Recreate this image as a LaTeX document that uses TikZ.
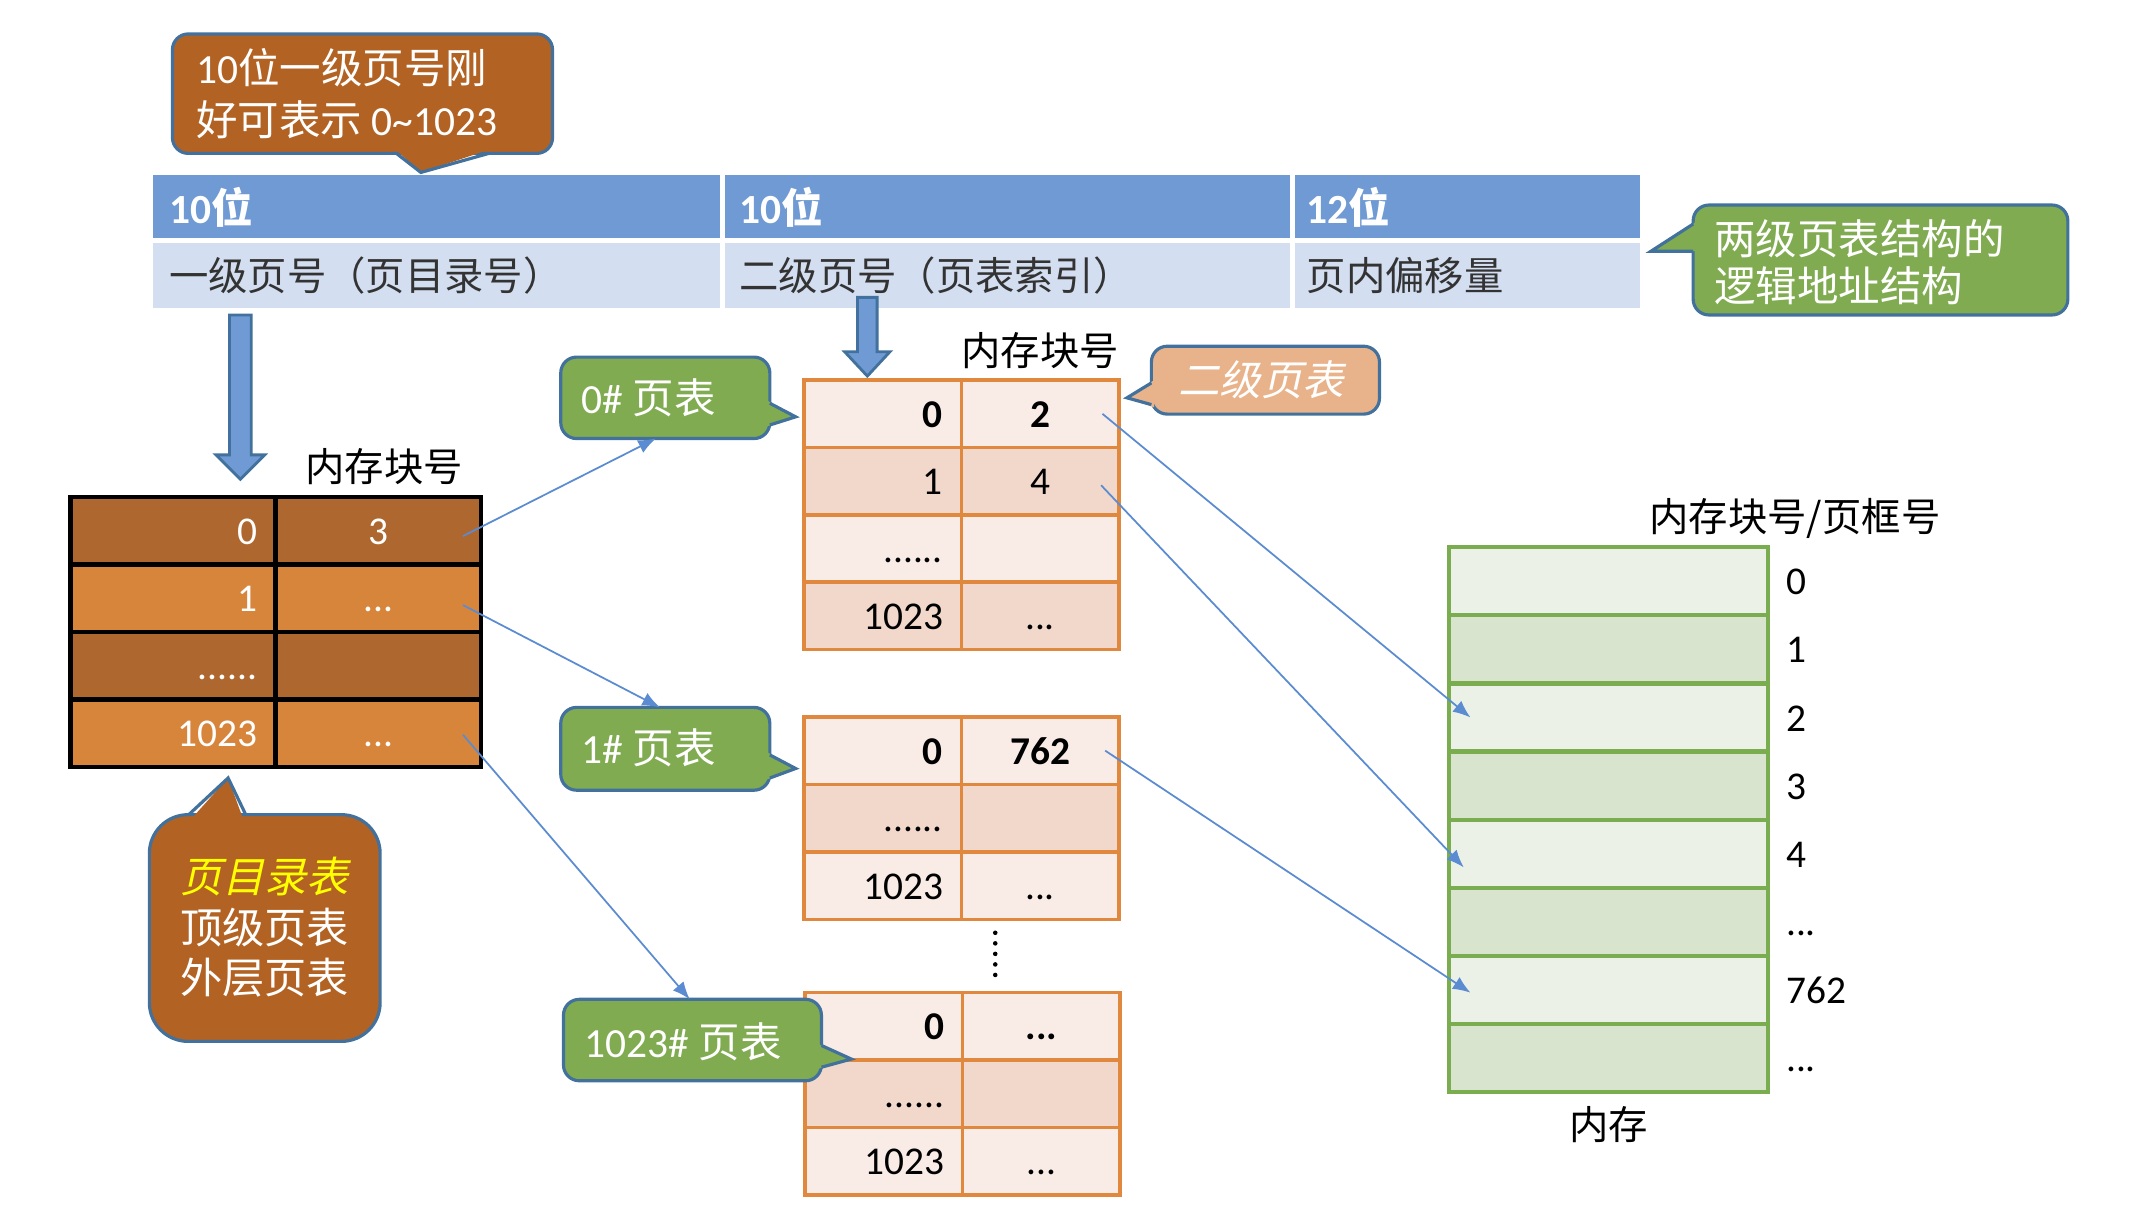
\documentclass[tikz,border=0pt]{standalone}
\usepackage{fontspec}
\setmainfont{Carlito}
\newfontfamily\cjk{Noto Sans CJK SC}
\newfontfamily\cjkit[FakeSlant=0.22]{Noto Sans CJK SC}
\usetikzlibrary{arrows.meta,calc}
\newcommand\pxu{0.38632pt}
\newcommand\mytdots{...}
\newcommand\mysdots{......}
\definecolor{hdrblue}{HTML}{6F9AD3}
\definecolor{hdrlight}{HTML}{D3DEF0}
\definecolor{outl}{HTML}{41719C}
\definecolor{cbrown}{HTML}{B26223}
\definecolor{tdark}{HTML}{AD672F}
\definecolor{torange}{HTML}{D8853C}
\definecolor{cgreen}{HTML}{80AB51}
\definecolor{cpeach}{HTML}{E8B38A}
\definecolor{pglight}{HTML}{F9EBE5}
\definecolor{pgdark}{HTML}{F2D8CB}
\definecolor{pgline}{HTML}{E0883E}
\definecolor{memlight}{HTML}{EBF1E7}
\definecolor{memdark}{HTML}{D8E4CE}
\definecolor{memline}{HTML}{79AD4F}
\definecolor{linkblue}{HTML}{5B8BD0}
\definecolor{graytext}{HTML}{333333}
\definecolor{ylw}{HTML}{FFFF00}
\tikzset{
  box/.style 2 args={minimum width=#1*\pxu, minimum height=#2*\pxu},
  bodyfont/.style={font=\fontsize{11.2}{13.5}\selectfont},
  callbody/.style={draw=outl, line width=0.9pt, rounded corners=4.5pt, inner sep=0pt, outer sep=0pt, anchor=north west},
  tailedge/.style={draw=outl, line width=0.9pt, line join=miter},
  cell/.style={inner sep=0pt, outer sep=0pt, anchor=north west},
  lcell/.style={cell, draw=black, line width=1.2pt},
  pcell/.style={cell, draw=pgline, line width=1pt},
  mcell/.style={cell, draw=memline, line width=1.2pt},
  link/.style={draw=linkblue, line width=0.5pt, -{Latex[length=5pt,width=4pt]}},
  barrow/.style={fill=hdrblue, draw=outl, line width=0.8pt},
  wtext/.style={text=white, inner sep=0pt, bodyfont},
  ktext/.style={text=black, inner sep=0pt, bodyfont},
  ctext/.style={text=white, inner sep=0pt, font=\fontsize{11.8}{14.7}\selectfont},
}
\begin{document}
\begin{tikzpicture}[x=0.013578cm, y=-0.013578cm]
\useasboundingbox (0,0) rectangle (1568,895.6);

% ---------- top-left callout ----------
\node[callbody, fill=cbrown, box={280}{88}] (ctop) at (127,25) {};
\fill[cbrown] (291,110) -- (310,127) -- (361,110) -- cycle;
\draw[tailedge] (292,113) -- (310,127) -- (360,113);
\node[ctext, anchor=west, align=left] (ctopt) at (144,69) {10{\cjk 位一级页号刚}\\{\cjk 好可表示} 0\textasciitilde 1023};

% ---------- header ----------
\node[cell, fill=hdrblue, box={417}{46}] (h1) at (113,129) {};
\node[cell, fill=hdrblue, box={416}{46}] (h2) at (534,129) {};
\node[cell, fill=hdrblue, box={254}{46}] (h3) at (954,129) {};
\node[cell, fill=hdrlight, box={417}{48}] (g1) at (113,179) {};
\node[cell, fill=hdrlight, box={416}{48}] (g2) at (534,179) {};
\node[cell, fill=hdrlight, box={254}{48}] (g3) at (954,179) {};
\node[wtext, anchor=west, font=\fontsize{11.8}{14}\selectfont\bfseries] (h1t) at (124,153) {10{\cjk\bfseries 位}};
\node[wtext, anchor=west, font=\fontsize{11.8}{14}\selectfont\bfseries] (h2t) at (544,153) {10{\cjk\bfseries 位}};
\node[wtext, anchor=west, font=\fontsize{11.8}{14}\selectfont\bfseries] (h3t) at (962,153) {12{\cjk\bfseries 位}};
\node[ktext, text=graytext, anchor=west] (g1t) at (124,203) {\cjk 一级页号（页目录号）};
\node[ktext, text=graytext, anchor=west] (g2t) at (544,203) {\cjk 二级页号（页表索引）};
\node[ktext, text=graytext, anchor=west] (g3t) at (962,203) {\cjk 页内偏移量};

% ---------- right green callout ----------
\node[callbody, fill=cgreen, box={276}{81}] (cright) at (1247,151) {};
\fill[cgreen] (1250,163) -- (1216,185) -- (1250,185) -- cycle;
\draw[tailedge] (1247,165) -- (1216,185) -- (1247,185);
\node[ctext, anchor=west, align=left, font=\fontsize{11.8}{13.2}\selectfont] (crightt) at (1262,193) {\cjk 两级页表结构的\\\cjk 逻辑地址结构};

% ---------- block arrows ----------
\draw[barrow] (169,232) -- (185,232) -- (185,335) -- (195,335) -- (177,353) -- (159,335) -- (169,335) -- cycle;
\draw[barrow] (631.5,219) -- (646,219) -- (646,259) -- (655.5,259) -- (638.8,277) -- (622,259) -- (631.5,259) -- cycle;

% ---------- labels ----------
\node[ktext] (lbl1) at (283,344) {\cjk 内存块号};
\node[ktext] (lbl2) at (766,258) {\cjk 内存块号};
\node[ktext] (lbl3) at (1322,382) {\cjk 内存块号/页框号};
\node[ktext] (lbl4) at (1185,828) {\cjk 内存};

% ---------- page directory table ----------
\foreach \r/\fc/\ta/\tb in {0/tdark/0/3, 1/torange/1/\mytdots, 2/tdark/\mysdots/{}, 3/torange/1023/\mytdots} {
  \node[lcell, fill=\fc, box={151}{49.75}] (La\r) at (52,{366+49.75*\r}) {};
  \node[lcell, fill=\fc, box={151}{49.75}] (Lb\r) at (203,{366+49.75*\r}) {};
  \node[wtext, anchor=base east] (Lat\r) at ($(La\r.east)+(-13,10)$) {\ta};
  \node[wtext, anchor=base] (Lbt\r) at ($(Lb\r.center)+(0,10)$) {\tb};
}

% ---------- page table 0 ----------
\foreach \r/\fc/\ta/\tb in {0/pglight/\textbf{0}/\textbf{2}, 1/pgdark/1/4, 2/pglight/\mysdots/{}, 3/pgdark/1023/\mytdots} {
  \node[pcell, fill=\fc, box={116}{49.6}] (Pa\r) at (592,{280+49.6*\r}) {};
  \node[pcell, fill=\fc, box={116}{49.6}] (Pb\r) at (708,{280+49.6*\r}) {};
  \node[ktext, anchor=base east] (Pat\r) at ($(Pa\r.east)+(-13,10)$) {\ta};
  \node[ktext, anchor=base] (Pbt\r) at ($(Pb\r.center)+(0,10)$) {\tb};
}

% ---------- page table 1 ----------
\foreach \r/\fc/\ta/\tb in {0/pglight/\textbf{0}/\textbf{762}, 1/pgdark/\mysdots/{}, 2/pglight/1023/\mytdots} {
  \node[pcell, fill=\fc, box={116}{49.7}] (Qa\r) at (592,{528+49.7*\r}) {};
  \node[pcell, fill=\fc, box={116}{49.7}] (Qb\r) at (708,{528+49.7*\r}) {};
  \node[ktext, anchor=base east] (Qat\r) at ($(Qa\r.east)+(-13,10)$) {\ta};
  \node[ktext, anchor=base] (Qbt\r) at ($(Qb\r.center)+(0,10)$) {\tb};
}

% ---------- page table 1023 ----------
\foreach \r/\fc/\ta/\tb in {0/pglight/\textbf{0}/\textbf{\mytdots}, 1/pgdark/\mysdots/{}, 2/pglight/1023/\mytdots} {
  \node[pcell, fill=\fc, box={116}{49.7}] (Ra\r) at (593,{731+49.7*\r}) {};
  \node[pcell, fill=\fc, box={116}{49.7}] (Rb\r) at (709,{731+49.7*\r}) {};
  \node[ktext, anchor=base east] (Rat\r) at ($(Ra\r.east)+(-13,10)$) {\ta};
  \node[ktext, anchor=base] (Rbt\r) at ($(Rb\r.center)+(0,10)$) {\tb};
}

\draw[line width=1.3pt, line cap=round, dash pattern=on 0pt off 3pt] (733,687) -- (733,722);

% ---------- memory ----------
\foreach \r/\fc/\t in {0/memlight/0, 1/memdark/1, 2/memlight/2, 3/memdark/3, 4/memlight/4, 5/memdark/\mytdots, 6/memlight/762, 7/memdark/\mytdots} {
  \node[mcell, fill=\fc, box={235}{50.175}] (M\r) at (1067,{403+50.175*\r}) {};
  \node[ktext, anchor=base west] (Mt\r) at ($(M\r.east)+(13,10)$) {\t};
}

% ---------- green page-table callouts ----------
\node[callbody, fill=cgreen, box={154}{60}] (c0) at (413,263) {};
\fill[cgreen] (565,295) -- (586,307) -- (565,314) -- cycle;
\draw[tailedge] (567,297) -- (586,307) -- (567,313);
\node[ctext, anchor=west] (c0t) at (428,293) {0\# {\cjk 页表}};

\node[callbody, fill=cgreen, box={154}{61}] (c1) at (413,521) {};
\fill[cgreen] (565,554) -- (586,566) -- (565,574) -- cycle;
\draw[tailedge] (567,556) -- (586,566) -- (567,573);
\node[ctext, anchor=west] (c1t) at (428,551) {1\# {\cjk 页表}};

\node[callbody, fill=cgreen, box={190}{60}] (c3) at (415,736) {};
\fill[cgreen] (603,769) -- (627,780) -- (603,787) -- cycle;
\draw[tailedge] (605,770) -- (627,780) -- (605,786);
\node[ctext, anchor=west] (c3t) at (430,767) {1023\# {\cjk 页表}};

% ---------- peach callout ----------
\node[callbody, fill=cpeach, box={168}{50}] (cp) at (848,255) {};
\fill[cpeach] (850,280) -- (830,293) -- (850,300) -- cycle;
\draw[tailedge] (848,282) -- (830,293) -- (848,298);
\node[ctext, anchor=center] (cpt) at (929,280) {\cjkit 二级页表};

% ---------- bottom-left callout ----------
\node[callbody, fill=cbrown, box={170}{167}, rounded corners=11pt] (cbot) at (110,600) {};
\fill[cbrown] (141,603) -- (168,573) -- (179,603) -- cycle;
\draw[tailedge] (139,600) -- (168,573) -- (181,600);
\node[ctext, anchor=center, align=center, font=\fontsize{12}{14.4}\selectfont] (cbott) at (195,683) {{\cjkit\color{ylw} 页目录表}\\\cjk 顶级页表\\\cjk 外层页表};

% ---------- connectors ----------
\draw[link] ($(Lb0.east)+(-13,4)$) -- ($(c0.south west)+(70,0)$);
\draw[link] ($(Lb1.east)+(-13,5)$) -- ($(c1.north west)+(73,0)$);
\draw[link] ($(Lb3.east)+(-13,1)$) -- ($(c3.north west)+(93,0)$);
\draw[link] ($(Pb0.east)+(-12,0)$) -- ($(M2.west)+(16,0)$);
\draw[link] ($(Pb1.east)+(-13,3)$) -- ($(M4.west)+(11,10)$);
\draw[link] ($(Qb0.east)+(-10,0)$) -- ($(M6.west)+(16,2)$);
\end{tikzpicture}
\end{document}
